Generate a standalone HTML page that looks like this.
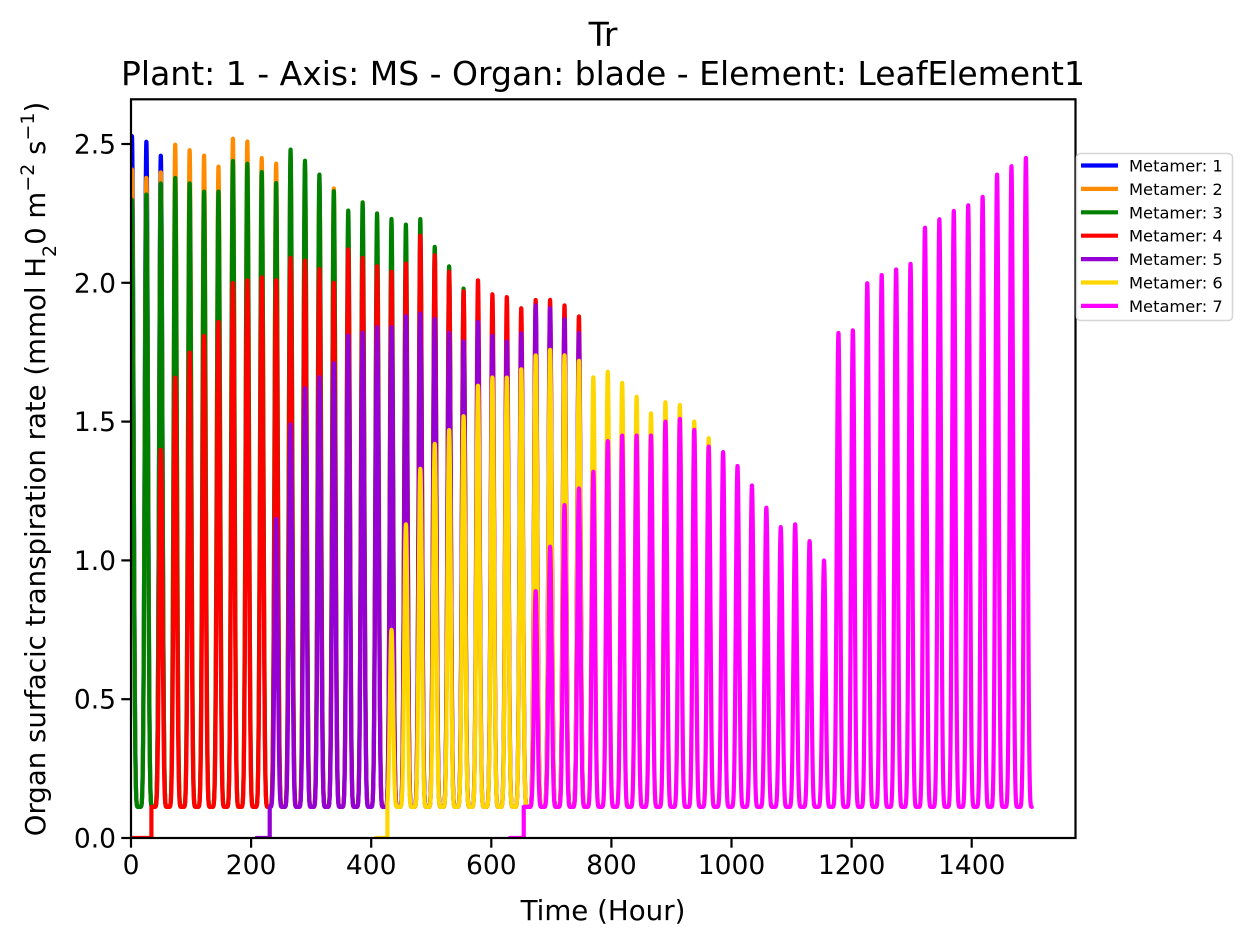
<!DOCTYPE html>
<html><head><meta charset="utf-8"><style>
body{margin:0;background:#fff;}
svg{display:block;font-family:"DejaVu Sans","Liberation Sans",sans-serif;}
</style></head><body>
<svg id="chart" width="1252" height="945" viewBox="0 0 1252 945" xmlns="http://www.w3.org/2000/svg">
<rect width="1252" height="945" fill="#fff"/>
<text x="603" y="46" text-anchor="middle" font-size="33">Tr</text>
<text x="603" y="85" text-anchor="middle" font-size="33">Plant: 1 - Axis: MS - Organ: blade - Element: LeafElement1</text>
<text x="603" y="920" text-anchor="middle" font-size="27.7">Time (Hour)</text>
<text transform="translate(45,469) rotate(-90)" text-anchor="middle" font-size="27.6">Organ surfacic transpiration rate (mmol H<tspan baseline-shift="sub" font-size="19">2</tspan>0 m<tspan baseline-shift="super" font-size="19">−2</tspan> s<tspan baseline-shift="super" font-size="19">−1</tspan>)</text>
<defs><clipPath id="plotclip"><rect x="131" y="99" width="945" height="739"/></clipPath></defs>
<g id="series" clip-path="url(#plotclip)"></g>
<g id="axes"></g>
<g id="legend"></g>
</svg>
<script>
const xTicks=[0,200,400,600,800,1000,1200,1400];
const yTicks=[0,0.5,1.0,1.5,2.0,2.5];
const yTickLabels=["0.0","0.5","1.0","1.5","2.0","2.5"];
const seriesNames=["Metamer: 1","Metamer: 2","Metamer: 3","Metamer: 4","Metamer: 5","Metamer: 6","Metamer: 7"];
const seriesColors=["#0000ff","#ff8c00","#008000","#ff0000","#9400d3","#ffd700","#ff00ff"];
const firstPeakIndex=[0,0,0,2,10,18,28];
const emergeTime=[0,0,0,34,231,427,654];
const zeroStart=[0,0,0,0,209,408,631];
const endTime=[62,348,566,758,758,974,1500];
const peaks1=[2.53,2.51,2.46];
const peaks2=[2.41,2.38,2.40,2.50,2.48,2.46,2.42,2.52,2.51,2.45,2.43,2.45,2.41,2.36,2.34];
const peaks3=[2.30,2.32,2.36,2.38,2.36,2.33,2.33,2.44,2.43,2.40,2.36,2.48,2.44,2.39,2.33,2.26,2.29,2.25,2.23,2.21,2.23,2.13,2.06,1.98];
const peaks4=[1.40,1.66,1.75,1.81,1.86,2.00,2.01,2.02,2.01,2.09,2.08,2.05,2.00,2.12,2.09,2.06,2.04,2.07,2.17,2.10,2.04,1.97,2.01,1.96,1.95,1.91,1.94,1.94,1.92,1.88];
const peaks5=[1.15,1.49,1.62,1.66,1.71,1.81,1.82,1.84,1.84,1.88,1.89,1.87,1.82,1.79,1.86,1.81,1.79,1.82,1.92,1.91,1.87,1.82];
const peaks6=[0.75,1.13,1.33,1.42,1.47,1.52,1.63,1.66,1.66,1.69,1.74,1.76,1.74,1.72,1.66,1.68,1.64,1.59,1.53,1.57,1.56,1.50,1.44];
const peaks7=[0.89,1.05,1.20,1.26,1.32,1.43,1.45,1.45,1.45,1.50,1.51,1.47,1.41,1.39,1.34,1.27,1.19,1.12,1.13,1.07,1.00,1.82,1.83,2.00,2.03,2.05,2.07,2.20,2.23,2.26,2.28,2.31,2.39,2.42,2.45];
const allPeaks=[peaks1,peaks2,peaks3,peaks4,peaks5,peaks6,peaks7];
const baseValue=0.112;
const period=24.01, phase=1.6;

const NS="http://www.w3.org/2000/svg";
const X0=131,X1=1075.5,Y0=838,Y1=99.3;
const xMin=0,xMax=(X1-X0)/0.6005;
const yMin=0,yMax=(Y0-Y1)/277.6;
function xs(v){return X0+(v-xMin)/(xMax-xMin)*(X1-X0);}
function ys(v){return Y0-(v-yMin)/(yMax-yMin)*(Y0-Y1);}
function mk(tag,attrs,parent){const e=document.createElementNS(NS,tag);for(const k in attrs)e.setAttribute(k,attrs[k]);parent.appendChild(e);return e;}

function valueAt(s,t){
  if(t<emergeTime[s])return 0;
  const pk=allPeaks[s],f=firstPeakIndex[s];
  let i=Math.round((t-phase)/period);
  i=Math.max(f,Math.min(f+pk.length-1,i));
  const d=t-(phase+period*i);
  let g=0;
  if(Math.abs(d)<period/2){g=Math.pow((1+Math.cos(2*Math.PI*d/period))/2,4);}
  return baseValue+(pk[i-f]-baseValue)*g;
}

const sg=document.getElementById('series');
for(let s=0;s<7;s++){
  let pts=[];
  const t0=zeroStart[s];
  for(let t=t0;t<=endTime[s];t+=0.25){
    if(t<emergeTime[s]&&t+0.25>=emergeTime[s]){pts.push(xs(emergeTime[s]).toFixed(2)+','+ys(0).toFixed(2));pts.push(xs(emergeTime[s]).toFixed(2)+','+ys(baseValue).toFixed(2));continue;}
    pts.push(xs(t).toFixed(2)+','+ys(valueAt(s,t)).toFixed(2));
  }
  const pl=mk('polyline',{points:pts.join(' '),fill:'none',stroke:seriesColors[s],'stroke-width':4.2,'stroke-linejoin':'round','stroke-linecap':'round'},sg);
  
  
}

const ax=document.getElementById('axes');
const frame=mk('rect',{x:X0,y:Y1,width:X1-X0,height:Y0-Y1,fill:'none',stroke:'#000','stroke-width':2.2},ax);


xTicks.forEach(v=>{
  const x=xs(v);
  const tk=mk('line',{x1:x,x2:x,y1:Y0,y2:Y0+9.7,stroke:'#000','stroke-width':2.2},ax);
  
  
  const tl=mk('text',{x:x,y:Y0+36,'text-anchor':'middle','font-size':26.5},ax);
  tl.textContent=String(v);
  
  
});
yTicks.forEach((v,i)=>{
  const y=ys(v);
  const tk=mk('line',{x1:X0-9.7,x2:X0,y1:y,y2:y,stroke:'#000','stroke-width':2.2},ax);
  
  
  const tl=mk('text',{x:X0-15,y:y+9.5,'text-anchor':'end','font-size':26.5},ax);
  tl.textContent=yTickLabels[i];
  
  
});

const lg=document.getElementById('legend');
const box=mk('rect',{x:1076.5,y:153.5,width:156,height:167,rx:4,fill:'#fff','fill-opacity':0.8,stroke:'#d6d6d6','stroke-width':1.5},lg);


seriesNames.forEach((n,i)=>{
  const y=165.5+i*23.4;
  const g=mk('g',{},lg);
  
  
  const ln=mk('line',{x1:1081,x2:1118,y1:y,y2:y,stroke:seriesColors[i],'stroke-width':4.2},g);
  
  
  const t=mk('text',{x:1129,y:y+6,'font-size':16.3},g);
  t.textContent=n;
  
  
});
</script>
</body></html>
